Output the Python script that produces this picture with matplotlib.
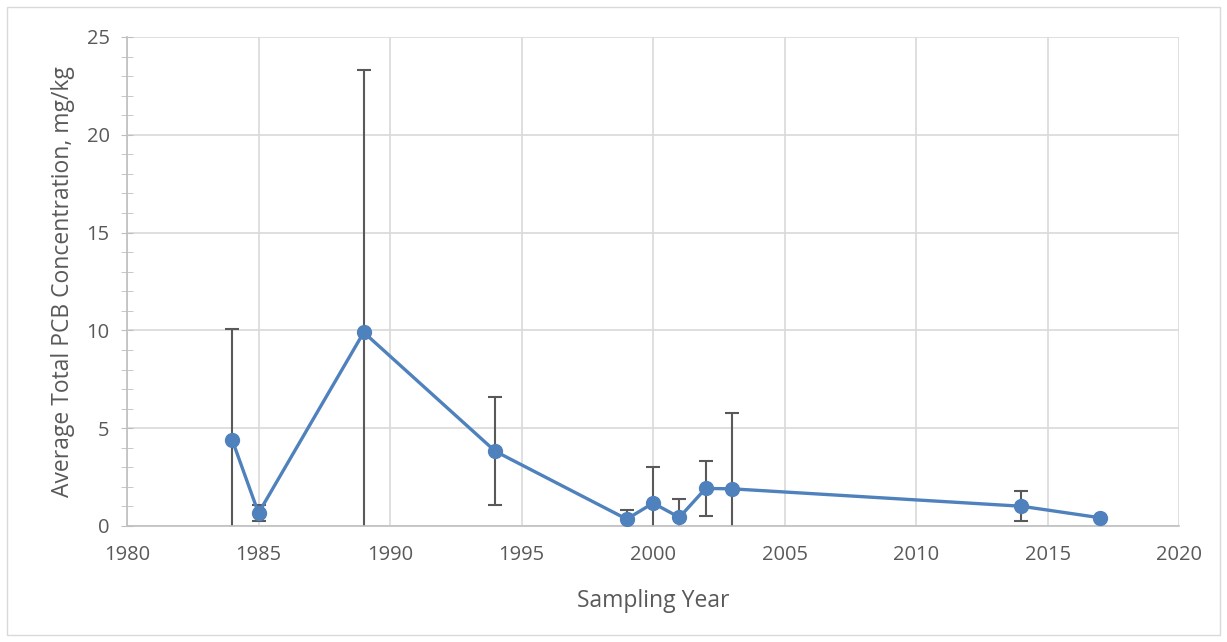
import numpy as np
import matplotlib.pyplot as plt
from matplotlib.patches import Rectangle

plt.rcParams['font.family'] = ['Open Sans', 'DejaVu Sans']

years = [1984, 1985, 1989, 1994, 1999, 2000, 2001, 2002, 2003, 2014, 2017]
avg_pcb = [4.40, 0.66, 9.90, 3.82, 0.35, 1.17, 0.44, 1.92, 1.90, 1.01, 0.42]
err_pcb = [5.65, 0.42, 13.4, 2.75, 0.47, 1.87, 0.93, 1.42, 3.90, 0.78, 0.0]

fig = plt.figure(figsize=(12.27, 6.42), dpi=100)
ax = fig.add_axes([0.1035, 0.1807, 0.8575, 0.7617])

# outer frame like the excel chart area
fig.patches.append(Rectangle((0.006, 0.011), 0.988, 0.978, transform=fig.transFigure,
                             fill=False, edgecolor='#d9d9d9', linewidth=1))

ax.errorbar(years, avg_pcb, yerr=err_pcb, fmt='none', ecolor='#595959',
            elinewidth=1.5, capsize=4.7, capthick=1.5, zorder=2)
ax.plot(years, avg_pcb, color='#4f81bd', linewidth=2.4, marker='o',
        markersize=10, zorder=3)

ax.set_xlim(1980, 2020)
ax.set_ylim(0, 25)
ax.set_xticks(np.arange(1980, 2021, 5))
ax.set_yticks(np.arange(0, 26, 5))
ax.set_yticks(np.arange(0, 26, 1), minor=True)
ax.grid(True, color='#d9d9d9', linewidth=1.2, zorder=0)
ax.set_axisbelow(True)

for s in ['top', 'right']:
    ax.spines[s].set_visible(False)
for s in ['left', 'bottom']:
    ax.spines[s].set_color('#bfbfbf')
    ax.spines[s].set_linewidth(1.2)

ax.tick_params(axis='y', which='both', direction='inout', length=9, color='#bfbfbf',
               labelsize=14.5, labelcolor='#595959', pad=8)
ax.tick_params(axis='y', which='minor', length=9)
ax.tick_params(axis='x', length=0, labelsize=14.5, labelcolor='#595959', pad=14)

ax.set_xlabel('Sampling Year', fontsize=16.5, color='#595959', labelpad=17)
ax.set_ylabel('Average Total PCB Concentration, mg/kg', fontsize=16.5,
              color='#595959', labelpad=8)

fig.savefig('out.png', dpi=100)
